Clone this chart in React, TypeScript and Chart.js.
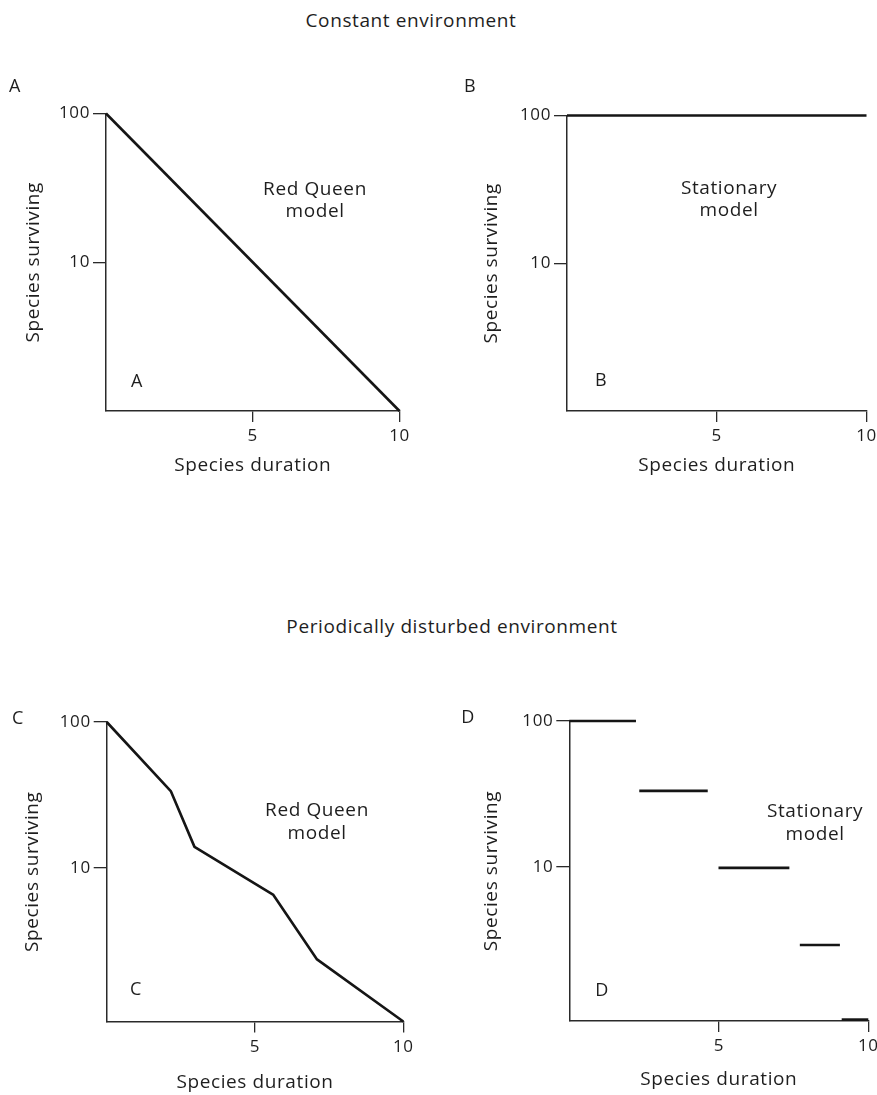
import React, { useEffect, useRef } from "react";
import { Chart, registerables } from "chart.js";

Chart.register(...registerables);

// ---- data ----
const xTickValues = [5, 10];
const yTickValues = [10, 100];

const aDuration = [0, 10];
const aSurviving = [100, 1];

const bDuration = [0, 10];
const bSurviving = [100, 100];

const cDuration = [0, 2.16, 2.96, 5.62, 7.08, 10];
const cSurviving = [100, 33.6, 13.9, 6.5, 2.36, 0.88];

const dStart = [0, 2.34, 4.99, 7.71, 9.11];
const dEnd = [2.23, 4.63, 7.36, 9.05, 10];
const dLevel = [100, 33.2, 9.85, 2.92, 0.9];

const xTitle = "Species duration";
const yTitle = "Species surviving";

// ---- style ----
const FONT = "'Open Sans', 'DejaVu Sans', sans-serif";
const TEXT = "#1e1e1e";
const AXIS = "#2a2a2a";
const LINE = "#151515";

type Box = { left: number; top: number; width: number; height: number };
type Area = { l: number; t: number; r: number; b: number };

interface PanelSpec {
  box: Box;
  area: Area;
  yMin: number;
  yTitleX: number;
  xTitleY: number;
  series: { x: number[]; y: number[] }[];
}

const panels: PanelSpec[] = [
  {
    box: { left: 0, top: 60, width: 440, height: 440 },
    area: { l: 106, t: 113.5, r: 399.5, b: 411 },
    yMin: 1,
    yTitleX: 34,
    xTitleY: 466,
    series: [{ x: aDuration, y: aSurviving }],
  },
  {
    box: { left: 440, top: 60, width: 437, height: 440 },
    area: { l: 567, t: 115.5, r: 866.5, b: 411 },
    yMin: 1,
    yTitleX: 492,
    xTitleY: 466,
    series: [{ x: bDuration, y: bSurviving }],
  },
  {
    box: { left: 0, top: 670, width: 440, height: 425 },
    area: { l: 106.7, t: 722, r: 403.3, b: 1021.5 },
    yMin: 0.88,
    yTitleX: 33,
    xTitleY: 1083,
    series: [{ x: cDuration, y: cSurviving }],
  },
  {
    box: { left: 440, top: 670, width: 437, height: 425 },
    area: { l: 569.3, t: 721, r: 868.3, b: 1021 },
    yMin: 0.88,
    yTitleX: 492,
    xTitleY: 1080,
    series: dStart.map((s, i) => ({ x: [s, dEnd[i]], y: [dLevel[i], dLevel[i]] })),
  },
];

const texts = [
  { t: "Constant environment", x: 411, y: 20, s: 19 },
  { t: "Periodically disturbed environment", x: 452, y: 626, s: 19 },
  { t: "A", x: 15, y: 85, s: 18 },
  { t: "B", x: 470, y: 85, s: 18 },
  { t: "C", x: 18, y: 717, s: 18 },
  { t: "D", x: 468, y: 716, s: 18 },
  { t: "A", x: 137, y: 380, s: 18 },
  { t: "B", x: 601, y: 379, s: 18 },
  { t: "C", x: 136, y: 988, s: 18 },
  { t: "D", x: 602, y: 989, s: 18 },
  { t: "Red Queen", x: 315, y: 188, s: 19 },
  { t: "model", x: 315, y: 210, s: 19 },
  { t: "Stationary", x: 729, y: 187, s: 19 },
  { t: "model", x: 729, y: 209, s: 19 },
  { t: "Red Queen", x: 317, y: 809, s: 19 },
  { t: "model", x: 317, y: 832, s: 19 },
  { t: "Stationary", x: 815, y: 810, s: 19 },
  { t: "model", x: 815, y: 833, s: 19 },
];

const spacingPlugin = {
  id: "spacing",
  beforeDraw(chart: any) {
    try {
      chart.ctx.letterSpacing = "0.6px";
    } catch (e) {}
  },
};

const TITLE_SIZE = 19;
const TITLE_LH = TITLE_SIZE * 1.2;

function Panel({ spec }: { spec: PanelSpec }) {
  const ref = useRef<HTMLCanvasElement | null>(null);
  useEffect(() => {
    if (!ref.current) return;
    const { box, area } = spec;
    const W = area.l - box.left;
    const H = spec.xTitleY + TITLE_LH / 2 - area.b;
    const chart = new Chart(ref.current, {
      type: "scatter",
      data: {
        datasets: spec.series.map((s) => ({
          data: s.x.map((x, i) => ({ x, y: s.y[i] })),
          showLine: true,
          borderColor: LINE,
          backgroundColor: LINE,
          borderWidth: 2.6,
          pointRadius: 0,
          pointHoverRadius: 0,
          fill: false,
          tension: 0,
          clip: false as any,
          borderJoinStyle: "round" as const,
        })),
      },
      options: {
        responsive: false,
        animation: false,
        devicePixelRatio: 1,
        events: [],
        layout: {
          padding: {
            left: 0,
            top: area.t - box.top,
            right: box.left + box.width - area.r,
            bottom: Math.max(0, box.top + box.height - area.b - H),
          },
        },
        plugins: {
          legend: { display: false },
          tooltip: { enabled: false },
        },
        scales: {
          x: {
            type: "linear",
            min: 0,
            max: 10,
            afterBuildTicks: (s: any) => {
              s.ticks = xTickValues.map((v) => ({ value: v }));
            },
            afterFit: (s: any) => {
              s.height = H;
              s.paddingLeft = 0;
              s.paddingRight = 0;
            },
            grid: {
              display: true,
              drawOnChartArea: false,
              drawTicks: true,
              tickLength: 11,
              color: AXIS,
              lineWidth: 1.3,
            },
            border: { display: true, color: AXIS, width: 1.5 },
            ticks: {
              padding: 4,
              color: TEXT,
              autoSkip: false,
              maxRotation: 0,
              font: { family: FONT, size: 17 },
              callback: (v: any) => String(v),
            },
            title: {
              display: true,
              text: xTitle,
              color: TEXT,
              font: { family: FONT, size: TITLE_SIZE },
              padding: 0,
            },
          },
          y: {
            type: "logarithmic",
            min: spec.yMin,
            max: 100,
            afterBuildTicks: (s: any) => {
              s.ticks = yTickValues.map((v) => ({ value: v }));
            },
            afterFit: (s: any) => {
              s.width = W;
              s.paddingTop = 0;
              s.paddingBottom = 0;
            },
            grid: {
              display: true,
              drawOnChartArea: false,
              drawTicks: true,
              tickLength: 13,
              color: AXIS,
              lineWidth: 1.3,
            },
            border: { display: true, color: AXIS, width: 1.5 },
            ticks: {
              padding: 3,
              color: TEXT,
              autoSkip: false,
              font: { family: FONT, size: 17 },
              callback: (v: any) => String(v),
            },
            title: {
              display: true,
              text: yTitle,
              color: TEXT,
              font: { family: FONT, size: TITLE_SIZE },
              padding: { top: spec.yTitleX - box.left - TITLE_LH / 2, bottom: 0 },
            },
          },
        },
      },
      plugins: [spacingPlugin],
    });
    return () => chart.destroy();
  }, [spec]);

  const { box } = spec;
  return (
    <canvas
      ref={ref}
      width={box.width}
      height={box.height}
      style={{
        position: "absolute",
        left: box.left,
        top: box.top,
        width: box.width,
        height: box.height,
      }}
    />
  );
}

export default function App() {
  return (
    <div
      style={{
        position: "absolute",
        left: 0,
        top: 0,
        width: 877,
        height: 1095,
        background: "#ffffff",
        overflow: "hidden",
      }}
    >
      {panels.map((p, i) => (
        <Panel key={i} spec={p} />
      ))}
      {texts.map((t, i) => (
        <div
          key={"t" + i}
          style={{
            position: "absolute",
            left: t.x,
            top: t.y,
            transform: "translate(-50%, -50%)",
            fontFamily: FONT,
            fontSize: t.s,
            lineHeight: 1,
            letterSpacing: "0.6px",
            color: TEXT,
            whiteSpace: "nowrap",
          }}
        >
          {t.t}
        </div>
      ))}
    </div>
  );
}
